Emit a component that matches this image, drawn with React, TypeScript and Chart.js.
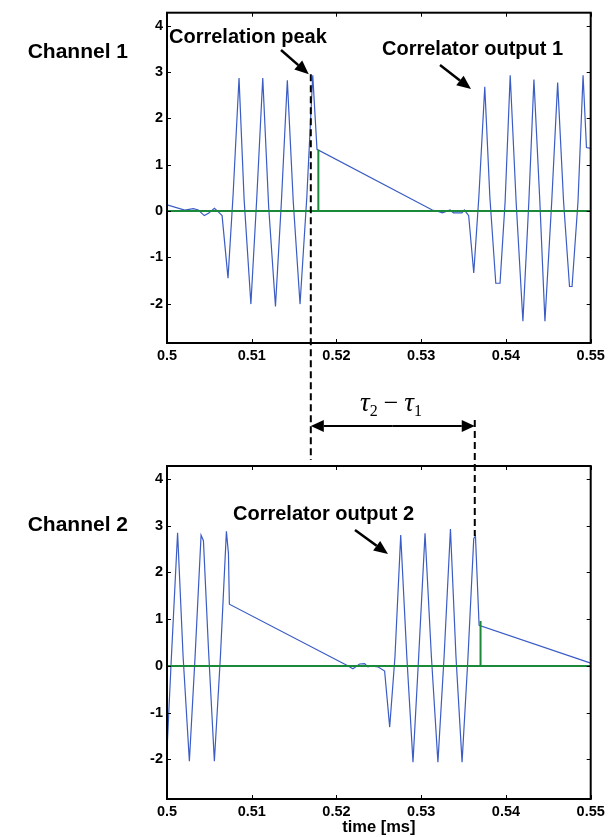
import React, { useEffect, useRef } from "react";
import { Chart, registerables } from "chart.js";

Chart.register(...registerables);

// ---------- data ----------
const xTicks = [0.5, 0.51, 0.52, 0.53, 0.54, 0.55];
const xTickLabels = ["0.5", "0.51", "0.52", "0.53", "0.54", "0.55"];
const yTicks = [-2, -1, 0, 1, 2, 3, 4];

const ch1Time = [
  0.5, 0.5021, 0.5031, 0.5037, 0.5044, 0.5049, 0.5056, 0.506, 0.5065, 0.5072,
  0.5078, 0.5085, 0.5091, 0.5099, 0.5106, 0.5113, 0.512, 0.5128, 0.5135, 0.5142,
  0.5149, 0.5157, 0.5165, 0.5172, 0.5177, 0.5313, 0.532, 0.5325, 0.5334, 0.5338,
  0.5348, 0.5351, 0.5356, 0.5362, 0.5368, 0.5375, 0.5381, 0.5388, 0.5393, 0.5399,
  0.5405, 0.5412, 0.542, 0.5427, 0.5433, 0.544, 0.5446, 0.5454, 0.5461, 0.5468,
  0.5475, 0.5478, 0.5485, 0.5491, 0.5495, 0.55,
];
const ch1Value = [
  0.13, 0.02, 0.05, 0.02, -0.1, -0.05, 0.06, -0.01, -0.1, -1.45,
  0.35, 2.87, 0.25, -2.01, 0.3, 2.87, 0.08, -2.06, 0.2, 2.82,
  0.2, -2.01, 0.3, 2.93, 1.33, 0.02, -0.01, -0.04, 0.02, -0.04,
  -0.04, 0.02, -0.1, -1.34, 0.3, 2.68, 0.3, -1.56, -1.56, 0.2,
  2.93, 0.2, -2.38, 0.2, 2.84, 0.2, -2.38, 0.2, 2.77, 0.2,
  -1.63, -1.63, 0.2, 2.93, 1.37, 1.35,
];
const ch1StemTime = [0.5, 0.51786, 0.51786, 0.51786, 0.55];
const ch1StemValue = [0, 0, 1.32, 0, 0];

const ch2Time = [
  0.5, 0.5005, 0.50125, 0.5019, 0.50264, 0.5033, 0.50402, 0.5043, 0.5049, 0.50559,
  0.5063, 0.50701, 0.50725, 0.50736, 0.52116, 0.52194, 0.52273, 0.52332, 0.52371, 0.5241,
  0.52489, 0.52568, 0.52628, 0.5269, 0.52758, 0.5283, 0.52903, 0.5297, 0.53045, 0.5312,
  0.53197, 0.5327, 0.53345, 0.5341, 0.53482, 0.5355, 0.5362, 0.5364, 0.53683, 0.55,
];
const ch2Value = [
  -1.81, 0.12, 2.85, 0.2, -2.04, 0.15, 2.8, 2.68, 0.34, -2.04,
  0.19, 2.88, 2.41, 1.32, 0.02, -0.06, 0.04, 0.05, -0.02, 0,
  -0.02, -0.11, -1.31, 0.19, 2.8, 0.2, -2.06, 0.2, 2.84, 0.2,
  -2.06, 0.2, 2.93, 0.2, -2.06, 0.12, 2.73, 2.78, 0.87, 0.06,
];
const ch2StemTime = [0.5, 0.537, 0.537, 0.537, 0.55];
const ch2StemValue = [0, 0, 0.96, 0, 0];

const peakTimes = [0.51697, 0.53632];
const peakValues = [2.95, 2.78];

// ---------- style ----------
const BLUE = "#3a5cc4";
const GREEN = "#1a8a3a";
const FONT = "'Liberation Sans', Arial, sans-serif";
const W = 613;
const H = 837;

function arrow(ctx: CanvasRenderingContext2D, x1: number, y1: number, x2: number, y2: number, head = 13, half = 5.5, lw = 2.5) {
  const a = Math.atan2(y2 - y1, x2 - x1);
  const bx = x2 - head * Math.cos(a);
  const by = y2 - head * Math.sin(a);
  ctx.save();
  ctx.strokeStyle = "#000";
  ctx.fillStyle = "#000";
  ctx.lineWidth = lw;
  ctx.setLineDash([]);
  ctx.beginPath();
  ctx.moveTo(x1, y1);
  ctx.lineTo(bx, by);
  ctx.stroke();
  ctx.beginPath();
  ctx.moveTo(x2, y2);
  ctx.lineTo(bx + half * Math.sin(a), by - half * Math.cos(a));
  ctx.lineTo(bx - half * Math.sin(a), by + half * Math.cos(a));
  ctx.closePath();
  ctx.fill();
  ctx.restore();
}

function frameAndTicks(chart: any) {
  const ctx: CanvasRenderingContext2D = chart.ctx;
  const a = chart.chartArea;
  const xs = chart.scales.x;
  const ys = chart.scales.y;
  ctx.save();
  ctx.strokeStyle = "#000";
  ctx.lineWidth = 1;
  ctx.beginPath();
  for (const v of xTicks) {
    const px = Math.round(xs.getPixelForValue(v)) + 0.5;
    ctx.moveTo(px, a.bottom);
    ctx.lineTo(px, a.bottom - 4);
    ctx.moveTo(px, a.top);
    ctx.lineTo(px, a.top + 4);
  }
  for (const v of yTicks) {
    const py = Math.round(ys.getPixelForValue(v)) + 0.5;
    ctx.moveTo(a.left, py);
    ctx.lineTo(a.left + 4, py);
    ctx.moveTo(a.right, py);
    ctx.lineTo(a.right - 4, py);
  }
  ctx.stroke();
  ctx.lineWidth = 2;
  ctx.strokeRect(a.left, a.top, a.right - a.left, a.bottom - a.top);
  ctx.restore();
}

function dashed(ctx: CanvasRenderingContext2D, x: number, y1: number, y2: number) {
  ctx.save();
  ctx.strokeStyle = "#000";
  ctx.lineWidth = 2;
  ctx.setLineDash([7, 4]);
  ctx.beginPath();
  ctx.moveTo(x, y1);
  ctx.lineTo(x, y2);
  ctx.stroke();
  ctx.restore();
}

function text(ctx: CanvasRenderingContext2D, s: string, x: number, y: number, size: number, align: CanvasTextAlign = "left") {
  ctx.save();
  ctx.fillStyle = "#000";
  ctx.font = `bold ${size}px ${FONT}`;
  ctx.textAlign = align;
  ctx.textBaseline = "alphabetic";
  ctx.fillText(s, x, y);
  ctx.restore();
}

const plugin1 = {
  id: "deco1",
  afterDatasetsDraw(chart: any) {
    const ctx: CanvasRenderingContext2D = chart.ctx;
    const xs = chart.scales.x;
    const ys = chart.scales.y;
    frameAndTicks(chart);
    const px1 = xs.getPixelForValue(peakTimes[0]);
    const px2 = xs.getPixelForValue(peakTimes[1]);
    dashed(ctx, px1, ys.getPixelForValue(peakValues[0]), 460);
    // tau arrow
    arrow(ctx, (px1 + px2) / 2, 426, px1, 426, 13, 6, 2);
    arrow(ctx, (px1 + px2) / 2, 426, px2, 426, 13, 6, 2);
    // tau label
    ctx.save();
    ctx.fillStyle = "#000";
    ctx.textBaseline = "alphabetic";
    const big = "italic 27px 'Liberation Serif', 'Times New Roman', serif";
    const sub = "16px 'Liberation Serif', 'Times New Roman', serif";
    const mid = "26px 'Liberation Serif', 'Times New Roman', serif";
    let x = 360;
    const base = 411;
    ctx.font = big; ctx.fillText("τ", x, base); x += ctx.measureText("τ").width;
    ctx.font = sub; ctx.fillText("2", x, base + 5); x += ctx.measureText("2").width + 6;
    ctx.font = mid; ctx.fillText("−", x, base); x += ctx.measureText("−").width + 6;
    ctx.font = big; ctx.fillText("τ", x, base); x += ctx.measureText("τ").width;
    ctx.font = sub; ctx.fillText("1", x, base + 5);
    ctx.restore();
    // annotations
    text(ctx, "Channel 1", 128, 58, 21, "right");
    text(ctx, "Correlation peak", 169, 43, 20);
    arrow(ctx, 281, 50, px1 - 2, ys.getPixelForValue(peakValues[0]), 14, 6, 2.5);
    text(ctx, "Correlator output 1", 382, 55, 20);
    arrow(ctx, 440, 65, 471, 89, 14, 6, 2.5);
  },
};

const plugin2 = {
  id: "deco2",
  afterDatasetsDraw(chart: any) {
    const ctx: CanvasRenderingContext2D = chart.ctx;
    const xs = chart.scales.x;
    const ys = chart.scales.y;
    frameAndTicks(chart);
    const px2 = xs.getPixelForValue(peakTimes[1]);
    dashed(ctx, px2, 420, ys.getPixelForValue(peakValues[1]));
    text(ctx, "Channel 2", 128, 531, 21, "right");
    text(ctx, "Correlator output 2", 233, 520, 20);
    arrow(ctx, 355, 530, 388, 554, 14, 6, 2.5);
    const a = chart.chartArea;
    text(ctx, "time [ms]", (a.left + a.right) / 2, 832, 16.5, "center");
  },
};

function makeConfig(time: number[], value: number[], sTime: number[], sValue: number[], top: number, bottom: number, xH: number, plugin: any): any {
  return {
    type: "line",
    data: {
      datasets: [
        {
          data: sTime.map((t, i) => ({ x: t, y: sValue[i] })),
          borderColor: GREEN,
          borderWidth: 2,
          pointRadius: 0,
          tension: 0,
          fill: false,
        },
        {
          data: time.map((t, i) => ({ x: t, y: value[i] })),
          borderColor: BLUE,
          borderWidth: 1.2,
          pointRadius: 0,
          tension: 0,
          fill: false,
        },
      ],
    },
    options: {
      responsive: false,
      animation: false,
      events: [],
      layout: { padding: { top, bottom: H - bottom - xH, left: 0, right: 22.3 } },
      plugins: { legend: { display: false }, tooltip: { enabled: false }, title: { display: false } },
      scales: {
        x: {
          type: "linear",
          min: 0.5,
          max: 0.55,
          grid: { display: false, drawTicks: false },
          border: { display: false },
          afterBuildTicks: (s: any) => { s.ticks = xTicks.map((v) => ({ value: v })); },
          afterFit: (s: any) => { s.height = xH; },
          ticks: {
            autoSkip: false,
            maxRotation: 0,
            padding: 4,
            color: "#000",
            font: { family: FONT, size: 14.5, weight: "bold" },
            callback: (_v: any, i: number) => xTickLabels[i],
          },
        },
        y: {
          type: "linear",
          min: -2.85,
          max: 4.28,
          grid: { display: false, drawTicks: false },
          border: { display: false },
          afterBuildTicks: (s: any) => { s.ticks = yTicks.map((v) => ({ value: v })); },
          afterFit: (s: any) => { s.width = 167; },
          ticks: {
            padding: 4,
            color: "#000",
            font: { family: FONT, size: 14.5, weight: "bold" },
            callback: (v: any) => String(v),
          },
        },
      },
    },
    plugins: [plugin],
  };
}

export default function App() {
  const c1 = useRef<HTMLCanvasElement>(null);
  const c2 = useRef<HTMLCanvasElement>(null);
  useEffect(() => {
    document.body.style.margin = "0";
    const ch1 = new Chart(c1.current!, makeConfig(ch1Time, ch1Value, ch1StemTime, ch1StemValue, 9, 343, 22, plugin1));
    const ch2 = new Chart(c2.current!, makeConfig(ch2Time, ch2Value, ch2StemTime, ch2StemValue, 466, 799, 22, plugin2));
    return () => {
      ch1.destroy();
      ch2.destroy();
    };
  }, []);
  const st: React.CSSProperties = { position: "absolute", left: 0, top: 0, width: W, height: H };
  return (
    <div style={{ position: "absolute", left: 0, top: 0, width: W, height: H, background: "#fff" }}>
      <canvas ref={c1} width={W} height={H} style={st} />
      <canvas ref={c2} width={W} height={H} style={st} />
    </div>
  );
}
